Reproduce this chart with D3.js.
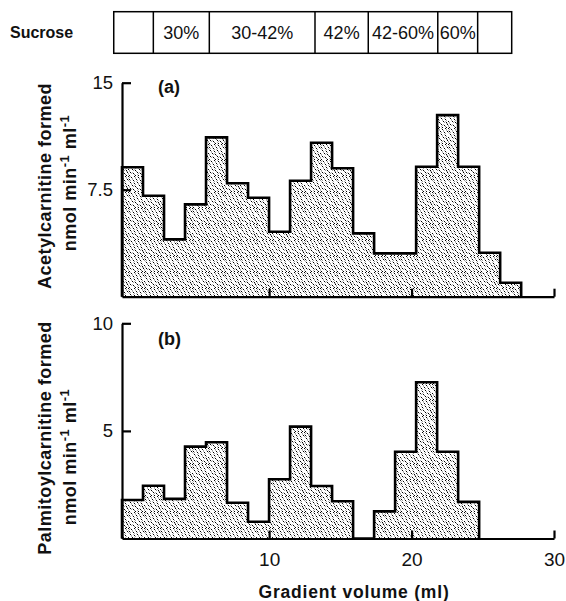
<!DOCTYPE html>
<html>
<head>
<meta charset="utf-8">
<script src="https://cdn.jsdelivr.net/npm/d3@7"></script>
<style>
  html, body { margin: 0; padding: 0; background: #fff; }
  svg { display: block; }
  text { font-family: "Liberation Sans", Arial, Helvetica, sans-serif; fill: #111; }
</style>
</head>
<body>
<svg id="chart" width="566" height="601"></svg>
<script>
// ---------------- data ----------------
const xTickValues = [10, 20, 30];              // Gradient volume (ml)
const binStart = -0.33;                        // ml, first fraction start
const binWidth = 1.475;                        // ml per fraction
const acetylcarnitine = [9.07, 7.08, 4.02, 6.47, 11.17, 7.95, 6.94, 4.55, 8.13, 10.79,
                         9.0, 4.44, 3.04, 3.04, 9.11, 12.73, 9.11, 3.08, 0.98];
const palmitoylcarnitine = [1.79, 2.45, 1.84, 4.27, 4.47, 1.66, 0.78, 2.75, 5.2, 2.44,
                            1.73, 0, 1.26, 4.03, 7.26, 4.03, 1.7];
const yTicksA = [7.5, 15];
const yTicksB = [5, 10];
const sucroseEdges = [-0.91, 1.87, 5.8, 13.22, 16.96, 21.84, 24.64, 27.03]; // ml
const sucroseLabels = ["", "30%", "30-42%", "42%", "42-60%", "60%", ""];

// ---------------- layout ----------------
const svg = d3.select("#chart");
const x = d3.scaleLinear().domain([-0.33, 30]).range([122, 554]);
const yA = d3.scaleLinear().domain([0, 15]).range([296.7, 82.7]);
const yB = d3.scaleLinear().domain([0, 10]).range([538.5, 323.3]);

// stipple pattern (texture only)
const defs = svg.append("defs");
const pat = defs.append("pattern").attr("id", "stip")
  .attr("patternUnits", "userSpaceOnUse").attr("width", 16).attr("height", 16);
pat.append("rect").attr("width", 16).attr("height", 16).attr("fill", "#fff");
const dots = [[0,0],[3,1],[6,0],[10,1],[13,0],[1,3],[5,4],[8,3],[12,4],[15,3],
              [2,6],[6,7],[9,6],[13,7],[0,9],[4,9],[7,10],[11,9],[14,10],[2,12],
              [5,13],[9,12],[12,13],[15,12],[1,15],[7,15],[10,15],[14,15]];
dots.forEach(([dx, dy]) => {
  [-16, 0].forEach(off => {
    pat.append("path").attr("d", `M${dx + off},${dy}l1.1,1.1`)
      .attr("stroke", "#000").attr("stroke-width", 1).attr("stroke-linecap", "round");
  });
});

function stepPath(values, y) {
  const p = d3.path();
  const e = i => x(binStart + i * binWidth);
  p.moveTo(e(0), y(0));
  values.forEach((v, i) => { p.lineTo(e(i), y(v)); p.lineTo(e(i + 1), y(v)); });
  p.lineTo(e(values.length), y(0));
  return p.toString();
}

function panel(values, y, yTicks, label, showXLabels, labelY) {
  const g = svg.append("g");
  g.append("path").attr("d", stepPath(values, y))
    .attr("fill", "url(#stip)").attr("stroke", "#000")
    .attr("stroke-width", 2.6).attr("stroke-linejoin", "miter");

  const ya = d3.axisLeft(y).tickValues(yTicks).tickFormat(d3.format("~g"))
    .tickSizeInner(-9).tickSizeOuter(0).tickPadding(9);
  const gy = g.append("g").attr("transform", `translate(${x.range()[0]},0)`).call(ya);
  gy.select(".domain").attr("stroke", "#000").attr("stroke-width", 2.2);
  gy.selectAll(".tick line").attr("stroke", "#000").attr("stroke-width", 2.2);
  gy.selectAll(".tick text").attr("font-size", 18.5).attr("fill", "#111")
    .attr("font-family", "Liberation Sans, Arial, sans-serif");

  const xa = d3.axisBottom(x).tickValues(xTickValues)
    .tickFormat(showXLabels ? d3.format("d") : () => "")
    .tickSizeInner(-8).tickSizeOuter(0).tickPadding(14);
  const gx = g.append("g").attr("transform", `translate(0,${y(0)})`).call(xa);
  gx.select(".domain").attr("stroke", "#000").attr("stroke-width", 2.2);
  gx.selectAll(".tick line").attr("stroke", "#000").attr("stroke-width", 2.2);
  gx.selectAll(".tick text").attr("font-size", 19).attr("fill", "#111")
    .attr("font-family", "Liberation Sans, Arial, sans-serif");

  g.append("text").attr("x", 158).attr("y", labelY)
    .attr("font-size", 18).attr("font-weight", "bold").text(label);
}

panel(acetylcarnitine, yA, yTicksA, "(a)", false, 93);
panel(palmitoylcarnitine, yB, yTicksB, "(b)", true, 345);

// y titles
function yTitle(line1, cx1, cy1, cx2, cy2) {
  svg.append("text").attr("transform", `translate(${cx1},${cy1}) rotate(-90)`)
    .attr("text-anchor", "middle").attr("font-size", 18).attr("font-weight", "bold")
    .attr("letter-spacing", 0.5).text(line1);
  const t = svg.append("text").attr("transform", `translate(${cx2},${cy2}) rotate(-90)`)
    .attr("text-anchor", "middle").attr("font-size", 18).attr("font-weight", "bold")
    .attr("letter-spacing", 0.5);
  t.append("tspan").text("nmol min");
  t.append("tspan").attr("dy", -7).attr("font-size", 13).text("-1");
  t.append("tspan").attr("dy", 7).text("  ml");
  t.append("tspan").attr("dy", -7).attr("font-size", 13).text("-1");
}
yTitle("Acetylcarnitine formed", 51, 186, 76, 183);
yTitle("Palmitoylcarnitine formed", 51, 438, 76, 457);

// x title
svg.append("text").attr("x", 354).attr("y", 598).attr("text-anchor", "middle")
  .attr("font-size", 17.5).attr("font-weight", "bold").attr("letter-spacing", 0.8)
  .text("Gradient volume (ml)");

// sucrose bar
const sb = svg.append("g");
sb.append("text").attr("x", 10).attr("y", 38).attr("font-size", 16)
  .attr("font-weight", "bold").text("Sucrose");
const boxTop = 11.7, boxBot = 53.3;
sb.append("rect").attr("x", x(sucroseEdges[0])).attr("y", boxTop)
  .attr("width", x(sucroseEdges[sucroseEdges.length - 1]) - x(sucroseEdges[0]))
  .attr("height", boxBot - boxTop).attr("fill", "none").attr("stroke", "#000").attr("stroke-width", 1.5);
sucroseEdges.slice(1, -1).forEach(e => {
  sb.append("line").attr("x1", x(e)).attr("x2", x(e)).attr("y1", boxTop).attr("y2", boxBot)
    .attr("stroke", "#000").attr("stroke-width", 1.5);
});
sucroseLabels.forEach((lab, i) => {
  if (!lab) return;
  sb.append("text").attr("x", (x(sucroseEdges[i]) + x(sucroseEdges[i + 1])) / 2).attr("y", 39)
    .attr("text-anchor", "middle").attr("font-size", 18).text(lab);
});
</script>
</body>
</html>
